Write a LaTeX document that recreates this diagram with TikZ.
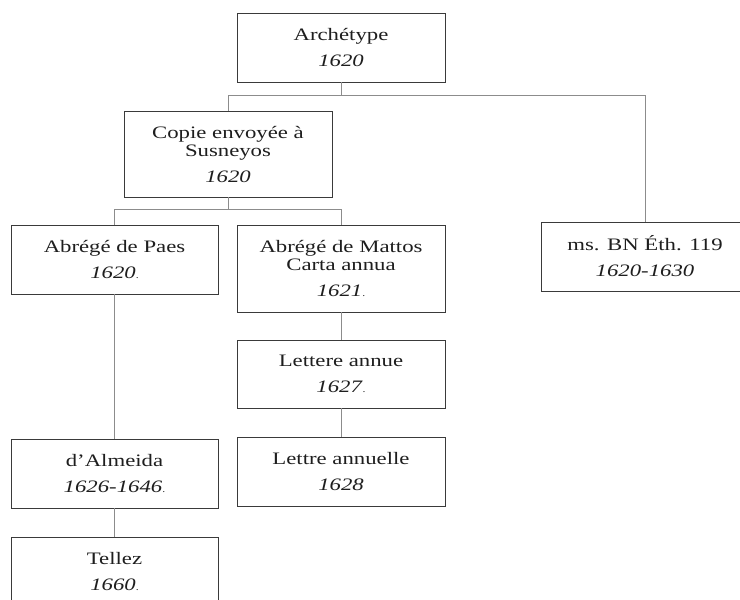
\documentclass[tikz,border=0pt]{standalone}
\usepackage{fontspec}
\setmainfont[FakeStretch=1.3]{Liberation Serif}
\definecolor{boxc}{HTML}{3A3A3A}
\definecolor{linkc}{HTML}{8C8C8C}
\definecolor{txtc}{HTML}{1E1E1E}
\newcommand{\yr}[1]{\textit{#1}}
\newcommand{\dt}{{\fontsize{9}{9}\selectfont.}}
\begin{document}
\begin{tikzpicture}[x=1pt,y=-1pt,
  box/.style={draw=boxc, line width=0.9pt, minimum width=208pt, inner sep=0pt,
    align=center, text=txtc, font=\fontsize{17.5}{18}\selectfont},
  link/.style={draw=linkc, line width=0.8pt}]
\useasboundingbox[fill=white] (0,0) rectangle (740,600);
\node[box, minimum height=69pt] (arch) at (341,47.5) {Archétype\\[8pt]\yr{1620}};
\node[box, minimum height=86pt] (copie) at (228,154) {Copie envoyée à\\Susneyos\\[8pt]\yr{1620}};
\node[box, minimum height=69pt, minimum width=207pt] (paes) at (114.5,259.5) {Abrégé de Paes\\[8pt]\yr{1620}\dt};
\node[box, minimum height=87pt] (mattos) at (341,268.5) {Abrégé de Mattos\\Carta annua\\[8pt]\yr{1621}\dt};
\node[box, minimum height=69pt] (ms) at (645,256.5) {ms. BN Éth. 119\\[8pt]\yr{1620-1630}};
\node[box, minimum height=68pt] (lettere) at (341,374) {Lettere annue\\[8pt]\yr{1627}\dt};
\node[box, minimum height=69pt] (lettre) at (341,471.5) {Lettre annuelle\\[8pt]\yr{1628}};
\node[box, minimum height=69pt, minimum width=207pt] (almeida) at (114.5,473.5) {d’Almeida\\[8pt]\yr{1626-1646}\dt};
\node[box, minimum height=69pt, minimum width=207pt] (tellez) at (114.5,571.5) {Tellez\\[8pt]\yr{1660}\dt};
\draw[link] (arch.south) -- ++(0,13) -| (copie.north);
\draw[link] (arch.south) -- ++(0,13) -| (ms.north);
\draw[link] (copie.south) -- ++(0,12) -| (paes.north);
\draw[link] (copie.south) -- ++(0,12) -| (mattos.north);
\draw[link] (paes.south) -- (almeida.north);
\draw[link] (almeida.south) -- (tellez.north);
\draw[link] (mattos.south) -- (lettere.north);
\draw[link] (lettere.south) -- (lettre.north);
\end{tikzpicture}
\end{document}
